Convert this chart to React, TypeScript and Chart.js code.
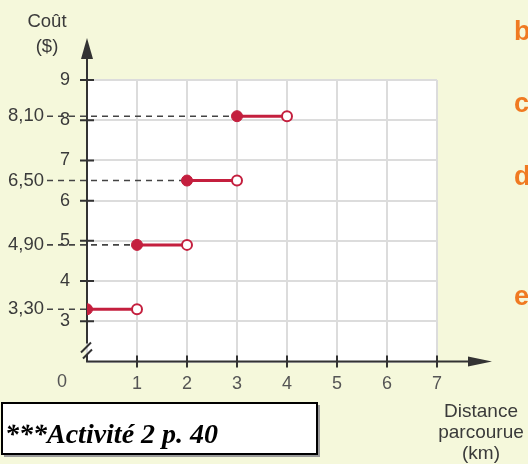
import React, { useEffect, useRef } from 'react';
import { Chart, registerables } from 'chart.js';

Chart.register(...registerables);

// ---- data ----
const startKm = [0, 1, 2, 3];
const endKm = [1, 2, 3, 4];
const costs = [3.3, 4.9, 6.5, 8.1];
const xTickValues = [1, 2, 3, 4, 5, 6, 7];
const yTickValues = [3, 4, 5, 6, 7, 8, 9];
const xAxisTitle = ['Distance', 'parcourue', '(km)'];
const yAxisTitle = ['Coût', '($)'];
const sideLetters = ['b', 'c', 'd', 'e'];
const boxText = '***Activité 2 p. 40';

const BG = '#f5f8db';
const RED = '#c41f3e';
const AXIS = '#333333';
const TEXT = '#3a3a3a';
const ORANGE = '#f07a22';
const FONT = '"Liberation Sans", Arial, sans-serif';

const decor = {
  id: 'decor',
  beforeDraw(chart: any) {
    const { ctx, chartArea: a, width, height } = chart;
    ctx.save();
    ctx.fillStyle = BG;
    ctx.fillRect(0, 0, width, height);
    ctx.fillStyle = '#ffffff';
    ctx.fillRect(a.left, a.top, a.right - a.left, a.bottom - a.top);
    ctx.restore();
  },
  beforeDatasetsDraw(chart: any) {
    const { ctx, chartArea: a, scales } = chart;
    const xs = scales.x;
    const ys = scales.y;
    ctx.save();
    // dashed guides
    ctx.strokeStyle = '#444444';
    ctx.lineWidth = 1.6;
    ctx.setLineDash([6, 5]);
    costs.forEach((c, i) => {
      const py = ys.getPixelForValue(c);
      ctx.beginPath();
      ctx.moveTo(a.left - 40, py);
      ctx.lineTo(xs.getPixelForValue(startKm[i]), py);
      ctx.stroke();
    });
    ctx.setLineDash([]);
    // value labels
    ctx.fillStyle = TEXT;
    ctx.font = `18.5px ${FONT}`;
    ctx.textAlign = 'right';
    ctx.textBaseline = 'middle';
    costs.forEach((c) => {
      ctx.fillText(c.toFixed(2).replace('.', ','), a.left - 43, ys.getPixelForValue(c));
    });

    // axes
    ctx.strokeStyle = AXIS;
    ctx.fillStyle = AXIS;
    ctx.lineWidth = 2;
    ctx.beginPath();
    ctx.moveTo(a.left, a.top - 24);
    ctx.lineTo(a.left, a.bottom - 18);
    ctx.moveTo(a.left, a.bottom - 7);
    ctx.lineTo(a.left, a.bottom);
    ctx.lineTo(a.right + 33, a.bottom);
    ctx.stroke();
    // break marks
    ctx.beginPath();
    ctx.moveTo(a.left - 6, a.bottom - 9);
    ctx.lineTo(a.left + 4, a.bottom - 19);
    ctx.moveTo(a.left - 4, a.bottom - 3);
    ctx.lineTo(a.left + 5, a.bottom - 12);
    ctx.stroke();
    // arrows
    ctx.beginPath();
    ctx.moveTo(a.left, a.top - 42);
    ctx.lineTo(a.left - 6, a.top - 21);
    ctx.lineTo(a.left + 6, a.top - 21);
    ctx.closePath();
    ctx.fill();
    ctx.beginPath();
    ctx.moveTo(a.right + 55, a.bottom);
    ctx.lineTo(a.right + 31, a.bottom - 5);
    ctx.lineTo(a.right + 31, a.bottom + 5);
    ctx.closePath();
    ctx.fill();
    // tick marks
    ctx.beginPath();
    yTickValues.forEach((v) => {
      const py = ys.getPixelForValue(v);
      ctx.moveTo(a.left - 7, py);
      ctx.lineTo(a.left + 7, py);
    });
    xTickValues.forEach((v) => {
      const px = xs.getPixelForValue(v);
      ctx.moveTo(px, a.bottom - 6);
      ctx.lineTo(px, a.bottom + 6);
    });
    ctx.stroke();
    ctx.restore();
  },
  afterDraw(chart: any) {
    const { ctx, chartArea: a, scales } = chart;
    const xs = scales.x;
    ctx.save();
    ctx.fillStyle = TEXT;
    ctx.textAlign = 'center';
    ctx.textBaseline = 'middle';
    ctx.font = `18.5px ${FONT}`;
    yAxisTitle.forEach((t, i) => ctx.fillText(t, a.left - 40, 22 + i * 25));
    ctx.font = `18px ${FONT}`;
    ctx.fillStyle = '#555555';
    ctx.fillText('0', xs.getPixelForValue(0) - 25, a.bottom + 21);
    ctx.fillStyle = TEXT;
    ctx.font = `19px ${FONT}`;
    xAxisTitle.forEach((t, i) => ctx.fillText(t, a.right + 44, a.bottom + 50 + i * 21));

    // side letters
    ctx.fillStyle = ORANGE;
    ctx.font = `bold 27px ${FONT}`;
    ctx.textAlign = 'left';
    ctx.textBaseline = 'alphabetic';
    const letterY = [40, 112, 185, 305];
    sideLetters.forEach((l, i) => ctx.fillText(l, 514, letterY[i]));

    // box
    ctx.fillStyle = '#9a9a9a';
    ctx.fillRect(4, 405, 316, 52);
    ctx.fillStyle = '#ffffff';
    ctx.fillRect(2, 403, 315, 51);
    ctx.strokeStyle = '#000000';
    ctx.lineWidth = 2;
    ctx.strokeRect(2, 403, 315, 51);
    ctx.fillStyle = '#000000';
    ctx.font = `italic bold 28px "Liberation Serif", "Times New Roman", serif`;
    ctx.fillText(boxText, 5, 443);
    ctx.restore();
  },
};

export default function App() {
  const ref = useRef<HTMLCanvasElement | null>(null);
  useEffect(() => {
    if (!ref.current) return;
    const datasets = costs.map((c, i) => ({
      data: [
        { x: startKm[i], y: c },
        { x: endKm[i], y: c },
      ],
      borderColor: RED,
      borderWidth: 3,
      showLine: true,
      pointRadius: [5.5, 5],
      pointBorderWidth: [1, 2],
      pointBackgroundColor: [RED, '#ffffff'],
      pointBorderColor: RED,
    }));
    const chart = new Chart(ref.current, {
      type: 'scatter',
      data: { datasets },
      plugins: [decor],
      options: {
        responsive: false,
        animation: false,
        layout: { padding: { top: 80, right: 91, left: 0, bottom: 0 } },
        plugins: { legend: { display: false }, tooltip: { enabled: false } },
        scales: {
          x: {
            type: 'linear',
            min: 0,
            max: 7,
            afterFit: (s: any) => {
              s.height = 102.5;
            },
            border: { display: false },
            grid: { color: '#dcdcdc', lineWidth: 2, drawTicks: false },
            ticks: {
              stepSize: 1,
              padding: 12,
              color: '#555555',
              font: { family: 'Liberation Sans', size: 18 },
              callback: (v: any) => (v === 0 ? '' : String(v)),
            },
          },
          y: {
            type: 'linear',
            min: 2,
            max: 9,
            afterFit: (s: any) => {
              s.width = 87;
            },
            border: { display: false },
            grid: { color: '#dcdcdc', lineWidth: 2, drawTicks: false },
            ticks: {
              stepSize: 1,
              padding: 17,
              color: TEXT,
              font: { family: 'Liberation Sans', size: 18 },
              callback: (v: any) => (v === 2 ? '' : String(v)),
            },
          },
        },
      },
    } as any);
    return () => chart.destroy();
  }, []);
  return (
    <div style={{ position: 'fixed', left: 0, top: 0, width: 528, height: 464 }}>
      <canvas ref={ref} width={528} height={464} style={{ display: 'block' }} />
    </div>
  );
}
